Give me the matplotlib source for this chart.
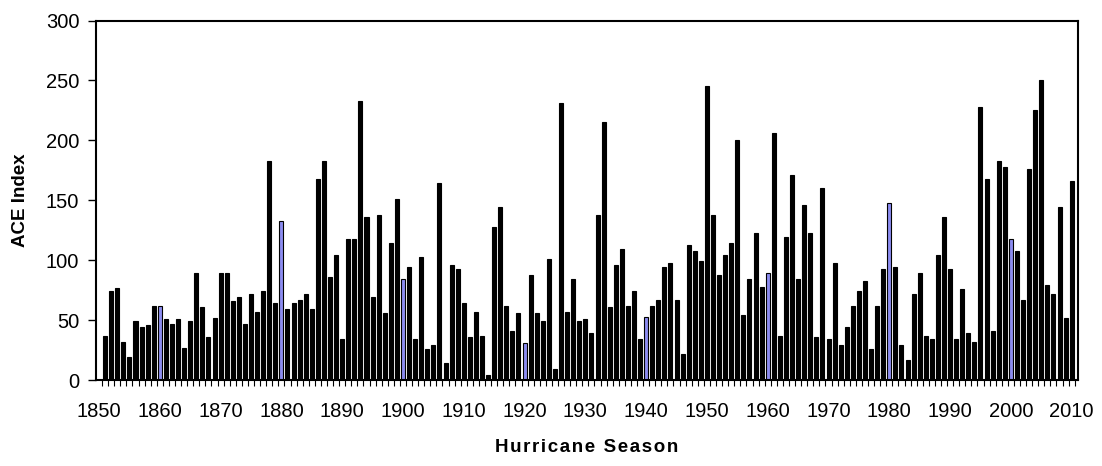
import numpy as np
import matplotlib
matplotlib.use('Agg')
import matplotlib.pyplot as plt

plt.rcParams['font.family'] = ['Liberation Sans', 'DejaVu Sans']

# hurricane seasons 1851-2010
years = list(range(1851, 2011))
ace = [
    37, 74, 77, 32, 19, 49, 44, 46, 62, 62,            # 1851-1860
    51, 47, 51, 27, 49, 89, 61, 36, 52, 89,            # 1861-1870
    89, 66, 69, 47, 72, 57, 74, 183, 64, 133,          # 1871-1880
    59, 64, 67, 72, 59, 168, 183, 86, 104, 34,         # 1881-1890
    118, 118, 233, 136, 69, 138, 56, 114, 151, 84,     # 1891-1900
    94, 34, 103, 26, 29, 164, 14, 96, 93, 64,          # 1901-1910
    36, 57, 37, 4, 128, 144, 62, 41, 56, 31,           # 1911-1920
    88, 56, 49, 101, 9, 231, 57, 84, 49, 51,           # 1921-1930
    39, 138, 215, 61, 96, 109, 62, 74, 34, 53,         # 1931-1940
    62, 67, 94, 98, 67, 22, 113, 108, 99, 245,         # 1941-1950
    138, 88, 104, 114, 200, 54, 84, 123, 78, 89,       # 1951-1960
    206, 37, 119, 171, 84, 146, 123, 36, 160, 34,      # 1961-1970
    98, 29, 44, 62, 74, 83, 26, 62, 93, 148,           # 1971-1980
    94, 29, 17, 72, 89, 37, 34, 104, 136, 93,          # 1981-1990
    34, 76, 39, 32, 228, 168, 41, 183, 178, 118,       # 1991-2000
    108, 67, 176, 225, 250, 79, 72, 144, 52, 166,      # 2001-2010
]
highlight_years = [1860, 1880, 1900, 1920, 1940, 1960, 1980, 2000]
tick_years = list(range(1850, 2011, 10))

colors = ['#8c8cf0' if y in highlight_years else 'black' for y in years]

fig = plt.figure(figsize=(11.02, 4.66), dpi=100)
ax = fig.add_axes([0.0871, 0.1845, 0.8909, 0.7715])

ax.bar(years, ace, width=0.66, color=colors, edgecolor='black', linewidth=0.8)

ax.set_xlim(1849.5, 2011.0)
ax.set_ylim(0, 300)
ax.set_yticks(range(0, 301, 50))
ax.set_xticks(tick_years)
ax.set_xticks(np.arange(1850.5, 2011, 1), minor=True)

ax.tick_params(axis='y', direction='out', length=6, width=1, labelsize=14.5, pad=6)
ax.tick_params(axis='x', which='major', length=0, labelsize=14.5, pad=16)
ax.tick_params(axis='x', which='minor', direction='out', length=4, width=0.8)

for s in ax.spines.values():
    s.set_linewidth(1.5)
    s.set_color('black')

# widen the letters of the x title a little, like the original
hair = '\u200a'
ax.set_xlabel(hair.join('Hurricane Season'), fontsize=13.5, fontweight='bold')
ax.set_ylabel('ACE Index', fontsize=13.5, fontweight='bold')
ax.xaxis.set_label_coords(0.5, -0.165)
ax.yaxis.set_label_coords(-0.068, 0.5)

fig.savefig('out.png', dpi=100)
